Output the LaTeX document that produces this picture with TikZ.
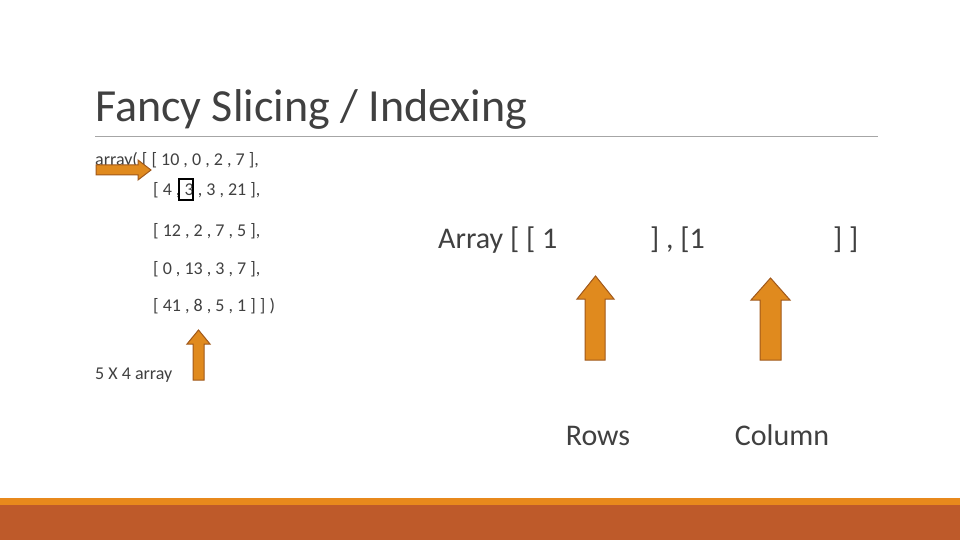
\documentclass[tikz,border=0pt]{standalone}
\usepackage{fontspec}
\setmainfont{Carlito}
\definecolor{arrowfill}{HTML}{E08A1E}
\definecolor{arrowline}{HTML}{A0581A}
\definecolor{bandtop}{HTML}{E8891C}
\definecolor{bandbot}{HTML}{BE5A2A}
\definecolor{txt}{HTML}{404040}
\tikzset{
  code/.style={anchor=base west, text=txt, font=\fontsize{18}{20}\selectfont, inner sep=0pt},
  big/.style={anchor=base west, text=txt, font=\fontsize{30}{34}\selectfont, inner sep=0pt},
  fat/.style={fill=arrowfill, draw=arrowline, line width=1pt},
}
\begin{document}
\begin{tikzpicture}[x=1pt,y=-1pt]
	\useasboundingbox (0,0) rectangle (960,540);
	% bottom band
	\fill[bandtop] (0,498) rectangle (960,505);
	\fill[bandbot] (0,505) rectangle (960,540);
	% title
	\node[anchor=base west, text=txt, font=\fontsize{46}{50}\selectfont, inner sep=0pt] (title) at (95,122) {Fancy Slicing / Indexing};
	\draw[gray!70] (95,136) -- (878,136);
	% array text
	\node[code] (r0) at (95,165) {array( [ [ 10 , 0 , 2 , 7 ],};
	\node[code] (r1) at (153,196) {[ 4 , 3 , 3 , 21 ],};
	\node[code] (r2) at (153,236) {[ 12 , 2 , 7 , 5 ],};
	\node[code] (r3) at (153,274) {[ 0 , 13 , 3 , 7 ],};
	\node[code] (r4) at (153,311) {[ 41 , 8 , 5 , 1 ] ] )};
	\node[code] (dims) at (95,379) {5 X 4 array};
	\draw[black, line width=1.2pt] (179,179) rectangle (193,200);
	% small arrows
	\draw[fat] (96,165) -- (138,165) -- (138,160) -- (151,170) -- (138,180) -- (138,175) -- (96,175) -- cycle;
	\draw[fat] (193,380) -- (193,344) -- (187,344) -- (198.5,330) -- (210,344) -- (204,344) -- (204,380) -- cycle;
	% indexing text
	\node[big] (open) at (438,248) {Array [ [ 1};
	\node[big] (mid) at (650,248) {] , [1};
	\node[big] (close) at (833,248) {] ]};
	% big arrows
	\draw[fat] (585,360) -- (585,299) -- (577,299) -- (595.5,276) -- (614,299) -- (605,299) -- (605,360) -- cycle;
	\draw[fat] (760,360) -- (760,300) -- (751,300) -- (770.5,278) -- (790,300) -- (781,300) -- (781,360) -- cycle;
	\node[big, anchor=base] (rows) at (598,445) {Rows};
	\node[big, anchor=base] (col) at (782,445) {Column};
\end{tikzpicture}
\end{document}
